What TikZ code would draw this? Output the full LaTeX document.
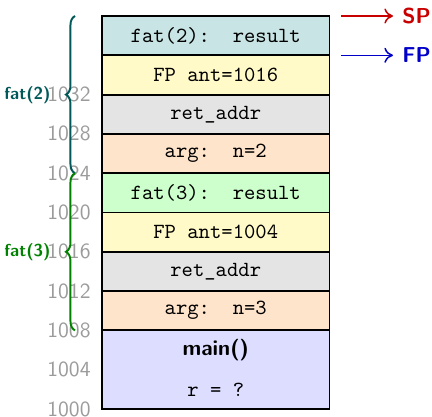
\documentclass[tikz,border=0pt]{standalone}
\usetikzlibrary{decorations.pathreplacing,arrows.meta}
\definecolor{resultcol}{RGB}{200,228,228}
\definecolor{fpcol}{RGB}{255,250,200}
\definecolor{retcol}{RGB}{228,228,228}
\definecolor{argcol}{RGB}{255,228,204}
\definecolor{result3col}{RGB}{204,255,204}
\definecolor{maincol}{RGB}{221,221,255}
\definecolor{addrcol}{RGB}{155,155,155}
\definecolor{fattwo}{RGB}{0,88,88}
\definecolor{fatthree}{RGB}{0,130,0}
\definecolor{spcol}{RGB}{200,0,0}
\definecolor{fpcolr}{RGB}{0,0,200}
\begin{document}
\begin{tikzpicture}[x=0.463pt,y=-0.463pt,
  cell/.style={draw=black,line width=0.9pt,rectangle,inner sep=0pt,outer sep=0pt,
    minimum width=227.5*0.463pt,minimum height=39.3*0.463pt,font=\ttfamily},
  addr/.style={anchor=east,inner sep=0pt,text=addrcol,font=\sffamily},
  fatlbl/.style={anchor=east,inner sep=0pt,font=\footnotesize\sffamily\bfseries},
  framebrace/.style={decorate,decoration={brace,amplitude=4.2pt},line width=0.9pt},
  ptr/.style={line width=0.7pt,-{To[length=4pt,width=7pt]}},
  ptrlbl/.style={anchor=west,inner sep=0pt,font=\sffamily\bfseries}]
\useasboundingbox (0,0) rectangle (432,417);

% stack cells, 4 bytes per row
\node[cell,fill=resultcol]  (c1) at (215.75,35.65)  {fat(2):~~result};
\node[cell,fill=fpcol]      (c2) at (215.75,74.95)  {FP ant=1016};
\node[cell,fill=retcol]     (c3) at (215.75,114.25) {ret\_addr};
\node[cell,fill=argcol]     (c4) at (215.75,153.55) {arg:~~n=2};
\node[cell,fill=result3col] (c5) at (215.75,192.85) {fat(3):~~result};
\node[cell,fill=fpcol]      (c6) at (215.75,232.15) {FP ant=1004};
\node[cell,fill=retcol]     (c7) at (215.75,271.45) {ret\_addr};
\node[cell,fill=argcol]     (c8) at (215.75,310.75) {arg:~~n=3};
\node[cell,fill=maincol,minimum height=78.6*0.463pt] (cm) at (215.75,369.7) {};
\node[font=\sffamily\bfseries] (mainname) at (215.75,350) {main()};
\node[font=\ttfamily] (mainvar) at (215.75,390) {r = ?};

% addresses
\node[addr] (a1032) at (91,94.6)  {1032};
\node[addr] (a1028) at (91,133.9) {1028};
\node[addr] (a1024) at (91,173.2) {1024};
\node[addr] (a1020) at (91,212.5) {1020};
\node[addr] (a1016) at (91,251.8) {1016};
\node[addr] (a1012) at (91,291.1) {1012};
\node[addr] (a1008) at (91,330.4) {1008};
\node[addr] (a1004) at (91,369.7) {1004};
\node[addr] (a1000) at (91,409)   {1000};

% frame braces
\coordinate (b2top) at (75,16);
\coordinate (b2bot) at (75,173.2);
\coordinate (b3bot) at (75,330.4);
\draw[framebrace,fattwo]   (b2bot) -- (b2top);
\draw[framebrace,fatthree] (b3bot) -- (b2bot);
\node[fatlbl,text=fattwo]   (f2) at (51,95)  {fat(2)};
\node[fatlbl,text=fatthree] (f3) at (51,252) {fat(3)};

% stack and frame pointers
\coordinate (sps) at (341,16);
\coordinate (spe) at (393,16);
\coordinate (fps) at (341,55.3);
\coordinate (fpe) at (393,55.3);
\draw[ptr,spcol]  (sps) -- (spe);
\draw[ptr,fpcolr] (fps) -- (fpe);
\node[ptrlbl,text=spcol]  (sp) at (402,16)   {SP};
\node[ptrlbl,text=fpcolr] (fp) at (402,55.3) {FP};
\end{tikzpicture}
\end{document}
